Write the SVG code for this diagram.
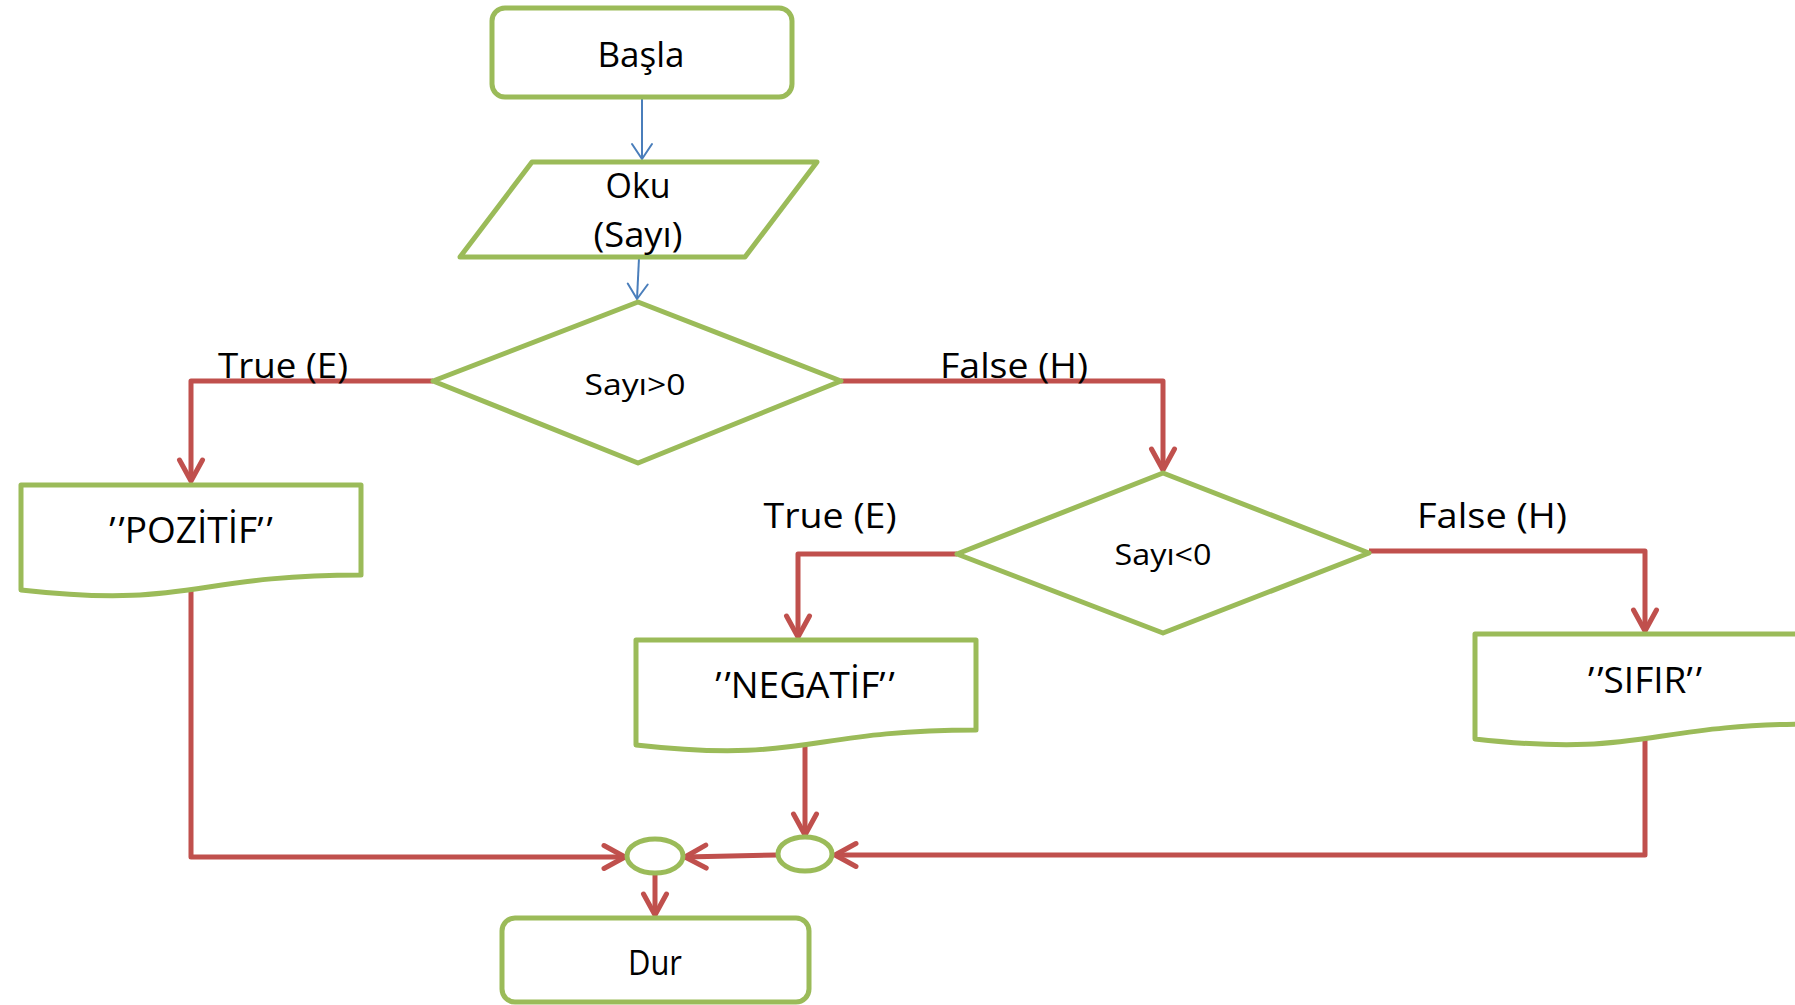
<svg xmlns="http://www.w3.org/2000/svg" width="1795" height="1005" viewBox="0 0 1795 1005">
  <style>
    .shape { fill: #FFFFFF; stroke: #9BBB59; stroke-width: 5; stroke-linejoin: round; }
    .flow { fill: none; stroke: #C0504D; stroke-width: 5; stroke-linejoin: round; stroke-linecap: butt; marker-end: url(#arrRed); }
    .thin { fill: none; stroke: #4A7EBB; stroke-width: 2; marker-end: url(#arrBlue); }
    text { font-family: "Open Sans", "Noto Sans", "Liberation Sans", sans-serif; fill: #000000; }
    .lbl { font-size: 35px; }
    .out { font-size: 37px; }
    .cond { font-size: 30px; }
  </style>
  <defs>
    <marker id="arrRed" markerUnits="userSpaceOnUse" viewBox="-30 -20 40 40" markerWidth="40" markerHeight="40" refX="0" refY="0" orient="auto" overflow="visible">
      <path d="M-21,-11.5 L0,0 L-21,11.5" fill="none" stroke="#C0504D" stroke-width="5" stroke-linecap="round" stroke-linejoin="round"/>
    </marker>
    <marker id="arrBlue" markerUnits="userSpaceOnUse" viewBox="-20 -15 30 30" markerWidth="30" markerHeight="30" refX="0" refY="0" orient="auto" overflow="visible">
      <path d="M-15,-10 L0,0 L-15,10" fill="none" stroke="#4A7EBB" stroke-width="2" stroke-linecap="round"/>
    </marker>
  </defs>

  <rect width="1795" height="1005" fill="#FFFFFF"/>

  <!-- connectors -->
  <g id="connectors">
    <path class="thin" d="M642,97 V159"/>
    <path class="thin" d="M639,258 L637,299"/>
    <path class="flow" d="M433,381 H191 V481"/>
    <path class="flow" d="M841,381 H1163 V470"/>
    <path class="flow" d="M957,554 H798 V637"/>
    <path class="flow" d="M1369,551 H1645 V631"/>
    <path class="flow" d="M191,590 V857 H625"/>
    <path class="flow" d="M805,745 V835"/>
    <path class="flow" d="M1645,739 V855 H835"/>
    <path class="flow" d="M777,855 L685,857"/>
    <path class="flow" d="M655,873 V915"/>
  </g>

  <!-- edge labels -->
  <g id="edge-labels">
    <text class="lbl" x="283" y="378" text-anchor="middle" textLength="130" lengthAdjust="spacingAndGlyphs">True (E)</text>
    <text class="lbl" x="1014" y="378" text-anchor="middle" textLength="148" lengthAdjust="spacingAndGlyphs">False (H)</text>
    <text class="lbl" x="830" y="528" text-anchor="middle" textLength="133" lengthAdjust="spacingAndGlyphs">True (E)</text>
    <text class="lbl" x="1492" y="528" text-anchor="middle" textLength="150" lengthAdjust="spacingAndGlyphs">False (H)</text>
  </g>

  <g id="start">
    <rect class="shape" x="492" y="8" width="300" height="89" rx="13"/>
    <text class="lbl" x="641" y="67" text-anchor="middle" textLength="87" lengthAdjust="spacingAndGlyphs">Başla</text>
  </g>

  <g id="read">
    <polygon class="shape" points="532,162 817,162 745,257 460,257"/>
    <text class="lbl" x="638" y="198" text-anchor="middle" textLength="65" lengthAdjust="spacingAndGlyphs">Oku</text>
    <text class="lbl" x="638" y="247" text-anchor="middle" textLength="89" lengthAdjust="spacingAndGlyphs">(Sayı)</text>
  </g>

  <g id="check-positive">
    <polygon class="shape" points="433,381 638,302 841,381 638,463"/>
    <text class="cond" x="635" y="395" text-anchor="middle" textLength="101" lengthAdjust="spacingAndGlyphs">Sayı&gt;0</text>
  </g>

  <g id="check-negative">
    <polygon class="shape" points="957,554 1163,473 1369,553 1163,633"/>
    <text class="cond" x="1163" y="565" text-anchor="middle" textLength="97" lengthAdjust="spacingAndGlyphs">Sayı&lt;0</text>
  </g>

  <g id="out-positive">
    <path class="shape" d="M21,485 H361 V575 C191,575 191,609 21,590 Z"/>
    <text class="out" x="191" y="543" text-anchor="middle">’<tspan dx="3">’</tspan>POZİTİF’<tspan dx="3">’</tspan></text>
  </g>

  <g id="out-negative">
    <path class="shape" d="M636,640 H976 V730 C806,730 806,764 636,745 Z"/>
    <text class="out" x="805" y="698" text-anchor="middle">’<tspan dx="3">’</tspan>NEGATİF’<tspan dx="3">’</tspan></text>
  </g>

  <g id="out-zero">
    <path class="shape" d="M1475,634 H1815 V724 C1645,724 1645,758 1475,739 Z"/>
    <text class="out" x="1645" y="693" text-anchor="middle">’<tspan dx="3">’</tspan>SIFIR’<tspan dx="3">’</tspan></text>
  </g>

  <g id="join-right">
    <ellipse class="shape" cx="805" cy="854" rx="27" ry="17"/>
  </g>

  <g id="join-left">
    <ellipse class="shape" cx="655" cy="856" rx="28" ry="17"/>
  </g>

  <g id="end">
    <rect class="shape" x="502" y="918" width="307" height="84" rx="13"/>
    <text class="lbl" x="655" y="975" text-anchor="middle" font-size="32" textLength="54" lengthAdjust="spacingAndGlyphs">Dur</text>
  </g>
</svg>
